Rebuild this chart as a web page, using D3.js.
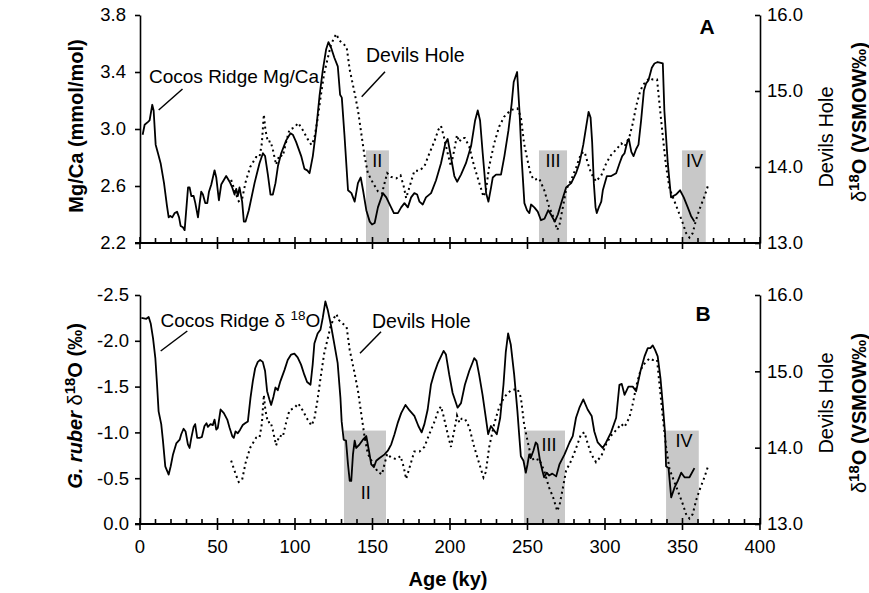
<!DOCTYPE html>
<html>
<head>
<meta charset="utf-8">
<script src="https://cdn.jsdelivr.net/npm/d3@7"></script>
<style>
  body { margin: 0; background: #fff; }
  svg { display: block; font-family: "Liberation Sans", Arial, Helvetica, sans-serif; }
</style>
</head>
<body>
<svg id="chart" width="869" height="593"></svg>
<script>
// Cocos Ridge Mg/Ca (mmol/mol) vs age (ky)
const cocosMgCa = [
  [1.7,2.96],[3.0,3.03],[5.2,3.05],[6.2,3.06],[7.9,3.17],[8.8,3.13],[10.1,2.89],[11.6,2.83],
  [13.3,2.76],[15.5,2.62],[17.4,2.46],[18.5,2.38],[19.6,2.39],[20.8,2.38],[22.4,2.41],[23.9,2.42],
  [25.2,2.38],[26.2,2.32],[27.7,2.31],[28.8,2.29],[31.0,2.59],[32.0,2.59],[33.1,2.53],[34.6,2.53],
  [35.7,2.48],[37.4,2.38],[38.5,2.48],[39.5,2.56],[40.6,2.54],[42.1,2.48],[43.4,2.48],[44.5,2.56],
  [46.0,2.61],[48.1,2.71],[49.2,2.66],[50.9,2.50],[52.4,2.61],[55.6,2.67],[57.8,2.63],[59.5,2.59],
  [61.0,2.54],[62.1,2.58],[63.1,2.53],[64.2,2.59],[65.9,2.49],[67.0,2.35],[68.1,2.35],[70.2,2.43],
  [73.9,2.62],[77.1,2.76],[79.3,2.83],[80.7,2.81],[82.5,2.68],[84.2,2.54],[85.7,2.54],[87.4,2.62],
  [89.0,2.74],[91.1,2.83],[94.3,2.92],[97.1,2.97],[98.6,2.96],[100.7,2.91],[104.0,2.81],[106.1,2.72],
  [107.9,2.71],[109.4,2.69],[111.5,2.81],[113.6,2.99],[115.8,3.23],[117.9,3.41],[120.1,3.56],[121.6,3.61],
  [123.3,3.57],[125.4,3.50],[127.6,3.44],[129.1,3.24],[130.2,3.22],[131.9,2.96],[134.2,2.57],[136.4,2.55],
  [138.5,2.49],[140.6,2.62],[142.4,2.66],[143.9,2.57],[146.0,2.43],[148.2,2.35],[149.7,2.33],[151.4,2.34],
  [153.5,2.45],[156.7,2.55],[158.9,2.52],[162.0,2.45],[163.8,2.41],[166.4,2.41],[168.5,2.45],[170.6,2.48],
  [172.8,2.45],[174.9,2.52],[177.0,2.55],[178.8,2.54],[180.3,2.49],[182.4,2.47],[184.5,2.52],[187.8,2.55],
  [191.0,2.64],[194.2,2.76],[197.0,2.90],[198.5,2.93],[200.2,2.83],[202.8,2.67],[204.6,2.63],[207.1,2.68],
  [210.3,2.76],[213.6,2.88],[216.2,3.06],[217.9,3.13],[219.4,3.06],[221.1,2.83],[223.3,2.55],[224.8,2.49],
  [226.5,2.59],[227.6,2.66],[229.7,2.68],[232.9,2.68],[235.1,2.81],[237.7,2.99],[239.8,3.18],[241.1,3.33],
  [243.3,3.40],[244.8,3.13],[246.3,2.78],[248.0,2.48],[249.7,2.43],[251.2,2.41],[252.3,2.47],[254.4,2.45],
  [256.6,2.42],[258.7,2.36],[260.9,2.37],[263.4,2.43],[265.1,2.40],[267.6,2.35],[269.6,2.40],[271.8,2.48],
  [274.9,2.59],[278.2,2.62],[281.3,2.69],[283.5,2.76],[286.0,2.89],[287.9,3.02],[289.4,3.12],[290.7,3.08],
  [291.7,2.91],[292.8,2.62],[293.9,2.45],[294.7,2.41],[296.0,2.45],[297.6,2.49],[298.6,2.57],[301.2,2.67],
  [304.0,2.67],[307.2,2.69],[309.4,2.76],[311.1,2.81],[312.6,2.83],[314.4,2.91],[315.4,2.93],[317.0,2.84],
  [318.4,2.81],[320.1,2.86],[321.6,2.89],[323.3,3.06],[325.1,3.27],[326.5,3.32],[328.0,3.34],[330.2,3.43],
  [331.9,3.46],[334.0,3.47],[337.3,3.46],[338.3,3.13],[340.5,2.76],[342.6,2.52],[345.8,2.54],[348.4,2.57],
  [350.8,2.52],[353.4,2.45],[355.5,2.39],[357.7,2.35]
];

// Cocos Ridge G. ruber d18O (permil) vs age (ky)
const cocosD18O = [
  [0.9,-2.25],[4.1,-2.24],[5.6,-2.26],[6.9,-2.19],[8.4,-2.03],[9.9,-1.81],[11.0,-1.52],[12.0,-1.23],
  [13.7,-1.09],[14.8,-0.91],[16.3,-0.63],[18.5,-0.54],[19.8,-0.63],[21.3,-0.76],[23.4,-0.88],[25.6,-0.92],
  [26.6,-0.98],[28.1,-1.04],[29.4,-1.01],[30.9,-0.87],[32.0,-0.83],[33.1,-0.94],[34.6,-1.06],[35.6,-1.09],
  [36.9,-0.94],[38.4,-0.94],[39.9,-0.95],[41.6,-1.07],[42.9,-1.10],[43.8,-1.06],[45.5,-1.09],[47.0,-1.08],
  [48.1,-1.14],[49.2,-1.03],[50.2,-1.05],[52.0,-1.25],[54.1,-1.21],[56.3,-1.14],[57.8,-1.05],[59.5,-0.96],
  [60.5,-0.94],[61.6,-1.01],[63.1,-0.99],[64.6,-1.03],[66.3,-1.08],[67.8,-1.10],[69.6,-1.12],[71.3,-1.38],
  [72.8,-1.56],[74.3,-1.70],[76.0,-1.77],[77.5,-1.79],[79.2,-1.77],[80.7,-1.67],[82.0,-1.45],[83.5,-1.36],
  [84.6,-1.30],[86.1,-1.39],[87.4,-1.49],[88.9,-1.46],[90.6,-1.56],[93.2,-1.68],[95.3,-1.79],[97.5,-1.85],
  [99.6,-1.86],[101.7,-1.82],[103.9,-1.74],[106.0,-1.63],[107.8,-1.55],[110.0,-1.52],[111.4,-1.74],[112.5,-1.97],
  [114.6,-2.08],[116.4,-2.12],[117.9,-2.25],[119.6,-2.43],[121.1,-2.34],[123.2,-2.17],[125.4,-1.96],[127.5,-1.76],
  [129.3,-1.38],[130.1,-1.12],[131.4,-0.92],[132.9,-0.91],[134.2,-0.65],[135.3,-0.47],[136.3,-0.47],[137.4,-0.76],
  [138.5,-0.91],[139.5,-0.83],[141.7,-0.87],[143.8,-0.92],[146.0,-0.96],[147.7,-0.80],[149.2,-0.65],[150.9,-0.62],
  [152.4,-0.69],[154.6,-0.72],[157.8,-0.76],[159.9,-0.80],[162.1,-0.87],[164.2,-0.98],[166.4,-1.11],[168.5,-1.21],
  [171.3,-1.30],[173.9,-1.24],[177.0,-1.18],[179.6,-1.07],[181.7,-1.00],[183.5,-1.09],[185.6,-1.25],[187.7,-1.52],
  [189.9,-1.65],[192.0,-1.75],[194.2,-1.83],[195.9,-1.89],[197.4,-1.85],[199.5,-1.63],[201.7,-1.43],[204.9,-1.27],
  [207.1,-1.32],[209.6,-1.52],[212.4,-1.67],[214.5,-1.76],[215.6,-1.81],[217.1,-1.78],[218.8,-1.63],[221.0,-1.41],
  [223.1,-1.16],[224.6,-0.98],[226.4,-1.07],[228.1,-1.03],[230.2,-0.98],[232.4,-1.16],[234.5,-1.52],[236.0,-1.88],
  [237.5,-2.08],[239.2,-1.96],[241.4,-1.63],[243.5,-1.23],[244.6,-0.98],[245.7,-0.74],[247.4,-0.69],[248.9,-0.56],
  [250.0,-0.65],[251.1,-0.76],[252.1,-0.72],[253.8,-0.80],[255.3,-0.89],[256.4,-0.87],[258.1,-0.69],[259.6,-0.58],
  [260.7,-0.51],[262.4,-0.56],[263.9,-0.53],[266.0,-0.55],[268.5,-0.52],[270.6,-0.65],[273.9,-0.76],[277.1,-0.89],
  [279.2,-0.96],[281.3,-1.16],[283.5,-1.27],[286.0,-1.36],[288.8,-1.25],[291.4,-1.18],[293.1,-1.01],[295.3,-0.89],
  [298.5,-0.83],[300.7,-0.89],[303.9,-1.00],[307.2,-1.16],[309.3,-1.52],[310.8,-1.53],[312.6,-1.41],[315.1,-1.50],
  [317.9,-1.50],[320.1,-1.45],[322.9,-1.67],[325.5,-1.83],[327.6,-1.92],[329.3,-1.92],[330.8,-1.95],[332.3,-1.90],
  [334.0,-1.83],[335.8,-1.59],[337.3,-1.30],[338.8,-0.98],[339.4,-0.63],[341.0,-0.61],[342.7,-0.29],[344.9,-0.40],
  [347.0,-0.47],[349.2,-0.56],[351.3,-0.51],[354.5,-0.51],[357.7,-0.61]
];

// Devils Hole d18O (VSMOW permil) vs age (ky), same record in both panels
const devilsHole = [
  [58.8,13.83],[61.6,13.66],[63.7,13.55],[65.9,13.58],[68.1,13.80],[71.1,14.00],[74.9,14.13],[77.1,14.13],
  [78.6,14.31],[79.9,14.69],[80.9,14.49],[82.5,14.33],[84.2,14.34],[85.7,14.23],[87.8,14.03],[90.0,14.16],
  [92.1,14.14],[94.3,14.33],[96.4,14.49],[99.6,14.52],[102.1,14.58],[104.9,14.49],[108.1,14.37],[110.6,14.29],
  [112.4,14.37],[114.5,14.62],[116.6,14.93],[118.8,15.23],[121.0,15.42],[123.1,15.60],[125.2,15.70],[126.7,15.75],
  [128.4,15.67],[130.6,15.63],[133.3,15.58],[135.3,15.28],[138.5,14.97],[140.6,14.75],[142.7,14.45],[144.9,14.14],
  [147.0,13.92],[150.3,13.79],[153.5,13.68],[156.1,13.65],[157.8,13.79],[159.5,13.92],[162.0,13.87],[165.3,13.85],
  [168.1,13.89],[170.2,13.74],[171.7,13.59],[173.9,13.74],[177.0,13.95],[180.3,13.95],[183.5,14.01],[186.7,14.18],
  [190.0,14.34],[192.5,14.49],[194.2,14.54],[195.9,14.41],[198.5,14.18],[200.6,14.01],[202.8,14.23],[204.5,14.42],
  [206.0,14.33],[207.5,14.38],[209.6,14.38],[212.4,14.27],[215.6,14.01],[218.9,13.79],[221.6,13.61],[223.1,13.68],
  [225.3,14.01],[228.5,14.31],[231.7,14.53],[234.9,14.66],[239.2,14.75],[243.5,14.77],[245.7,14.66],[247.8,14.31],
  [250.0,14.09],[252.1,13.90],[254.2,13.83],[257.5,13.85],[260.7,13.70],[263.9,13.48],[266.5,13.35],[268.0,13.25],
  [269.2,13.17],[270.7,13.25],[272.9,13.48],[274.9,13.70],[278.2,13.83],[281.3,13.99],[284.6,14.18],[286.8,14.20],
  [288.9,14.05],[291.0,13.92],[294.2,13.81],[297.6,13.89],[300.8,14.05],[304.0,14.16],[307.2,14.23],[310.5,14.31],
  [312.6,14.27],[315.8,14.40],[318.0,14.58],[320.1,14.80],[322.3,14.97],[324.4,15.08],[326.5,15.12],[328.7,15.17],
  [330.8,15.15],[333.6,15.15],[335.1,14.84],[337.3,14.40],[339.4,14.01],[341.6,13.72],[344.4,13.57],[346.9,13.44],
  [350.2,13.26],[352.3,13.13],[354.5,13.07],[356.6,13.13],[358.8,13.31],[360.9,13.44],[364.1,13.61],[366.7,13.77]
];

// shaded intervals: [start age, end age, top value on left axis]
const shadeA = [[145.8,160.6,2.85],[257.4,275.5,2.85],[349.7,365.0,2.85]];
const shadeB = [[131.6,158.7,-1.02],[247.7,274.2,-1.02],[339.4,360.5,-1.02]];
// numerals: [text, age, left-axis value of baseline]
const romanA = [["II",153.0,2.735],["III",266.4,2.735],["IV",357.8,2.735]];
const romanB = [["II",145.6,-0.27],["III",263.8,-0.80],["IV",351.0,-0.84]];

const ageTicks = d3.range(0, 401, 50);
const ageMinor = d3.range(0, 401, 10);
const mgcaTicks = [2.2, 2.6, 3.0, 3.4, 3.8];
const d18OTicks = [0.0, -0.5, -1.0, -1.5, -2.0, -2.5];
const dhTicks = [13, 14, 15, 16];

const svg = d3.select("#chart");
const TICKFONT = 18.5;
const x = d3.scaleLinear().domain([0, 400]).range([140, 760]);

function drawPanel(cfg) {
  const g = svg.append("g");
  const yL = d3.scaleLinear().domain(cfg.leftDomain).range([cfg.bottom, cfg.top]);
  const yR = d3.scaleLinear().domain([13, 16]).range([cfg.bottom, cfg.top]);

  // grey boxes
  g.append("g").selectAll("rect").data(cfg.shade).join("rect")
    .attr("x", d => x(d[0])).attr("width", d => x(d[1]) - x(d[0]))
    .attr("y", d => yL(d[2])).attr("height", d => cfg.bottom - yL(d[2]))
    .attr("fill", "#c8c8c8");

  g.append("g").selectAll("text").data(cfg.roman).join("text")
    .attr("x", d => x(d[1])).attr("y", d => yL(d[2]))
    .attr("text-anchor", "middle").attr("font-size", 18).attr("fill", "#000")
    .text(d => d[0]);

  // Devils Hole dotted
  g.append("path").datum(devilsHole)
    .attr("fill", "none").attr("stroke", "#000").attr("stroke-width", 2)
    .attr("stroke-dasharray", "2,3.4")
    .attr("d", d3.line().x(d => x(d[0])).y(d => yR(d[1])));

  // Cocos Ridge solid
  g.append("path").datum(cfg.series)
    .attr("fill", "none").attr("stroke", "#000").attr("stroke-width", 1.8)
    .attr("stroke-linejoin", "round")
    .attr("d", d3.line().x(d => x(d[0])).y(d => yL(d[1])));

  // left axis
  const la = g.append("g").attr("transform", "translate(140,0)")
    .call(d3.axisLeft(yL).tickValues(cfg.leftTicks).tickSize(5).tickSizeOuter(0).tickPadding(cfg.leftPad)
      .tickFormat(d3.format(".1f")));
  // right axis, ticks inward
  const ra = g.append("g").attr("transform", "translate(760,0)")
    .call(d3.axisRight(yR).tickValues(dhTicks).tickSize(-5).tickSizeOuter(0).tickPadding(7)
      .tickFormat(d3.format(".1f")));
  [la, ra].forEach(a => {
    a.selectAll("path, line").attr("stroke", "#000").attr("stroke-width", 1.6);
    a.selectAll("text").attr("font-size", TICKFONT).attr("fill", "#000")
      .attr("font-family", "Liberation Sans, Arial, sans-serif");
  });
  la.selectAll("text").text(d => d3.format(".1f")(d).replace("−", "-"));

  // bottom axis
  const b = g.append("g");
  b.append("line").attr("x1", 135).attr("x2", 760).attr("y1", cfg.bottom).attr("y2", cfg.bottom)
    .attr("stroke", "#000").attr("stroke-width", 1.8);
  b.selectAll(".minor").data(ageMinor.filter(v => v % 50 !== 0)).join("line")
    .attr("x1", d => x(d)).attr("x2", d => x(d))
    .attr("y1", cfg.bottom - 5).attr("y2", cfg.bottom)
    .attr("stroke", "#000").attr("stroke-width", 1.6);
  b.selectAll(".major").data(ageTicks).join("line")
    .attr("x1", d => x(d)).attr("x2", d => x(d))
    .attr("y1", cfg.bottom - 6).attr("y2", cfg.bottom + 6)
    .attr("stroke", "#000").attr("stroke-width", 1.6);
  if (cfg.ageLabels) {
    b.selectAll("text").data(ageTicks).join("text")
      .attr("x", d => x(d)).attr("y", cfg.bottom + 29)
      .attr("text-anchor", "middle").attr("font-size", TICKFONT).text(d => d);
  }

  // panel letter
  g.append("text").attr("x", cfg.letterX).attr("y", cfg.letterY)
    .attr("text-anchor", "middle").attr("font-size", 21).attr("font-weight", "bold")
    .text(cfg.letter);

  return { g, yL, yR };
}

drawPanel({
  top: 15, bottom: 243, leftDomain: [2.2, 3.8], leftTicks: mgcaTicks, leftPad: 9,
  series: cocosMgCa, shade: shadeA, roman: romanA, ageLabels: false,
  letter: "A", letterX: 707, letterY: 34
});
drawPanel({
  top: 295, bottom: 524, leftDomain: [0, -2.5], leftTicks: d18OTicks, leftPad: 6,
  series: cocosD18O, shade: shadeB, roman: romanB, ageLabels: true,
  letter: "B", letterX: 703, letterY: 321
});

// annotations with leader lines
function annot(txt, tx, ty, size, line, sup) {
  const t = svg.append("text").attr("x", tx).attr("y", ty).attr("font-size", size);
  t.append("tspan").text(txt);
  if (sup) {
    t.append("tspan").attr("font-size", 13.5).attr("dy", -7).text(sup[0]);
    t.append("tspan").attr("dy", 7).text(sup[1]);
  }
  svg.append("line").attr("x1", line[0]).attr("y1", line[1]).attr("x2", line[2]).attr("y2", line[3])
    .attr("stroke", "#000").attr("stroke-width", 1.5);
}
annot("Cocos Ridge Mg/Ca", 149, 83, 19, [158.7, 110, 182.5, 89]);
annot("Devils Hole", 366, 62, 19.5, [361.7, 96.7, 385, 71.7]);
annot("Cocos Ridge \u03b4 ", 160.5, 327, 19, [160.7, 351, 187.3, 331], ["18", "O"]);
annot("Devils Hole", 372, 328, 19.5, [360, 353.3, 381, 331.7]);

// axis titles
function vtitle(cx, cy, size, parts) {
  const t = svg.append("text").attr("transform", `translate(${cx},${cy}) rotate(-90)`)
    .attr("text-anchor", "middle").attr("font-size", size);
  parts.forEach(p => {
    const s = t.append("tspan").text(p.t);
    if (p.w) s.attr("font-weight", p.w);
    if (p.i) s.attr("font-style", "italic");
    if (p.s) s.attr("font-size", p.s);
    if (p.dy) s.attr("dy", p.dy);
  });
}
vtitle(83, 126, 20, [{ t: "Mg/Ca (mmol/mol)", w: "bold" }]);
vtitle(82, 406, 20, [
  { t: "G. ruber", w: "bold", i: true }, { t: " \u03b4" },
  { t: "18", w: "bold", s: 15, dy: -7 }, { t: "O (\u2030)", w: "bold", dy: 7 }
]);
[[137, 122], [403, 413]].forEach(([c1, c2]) => {
  vtitle(833, c1, 20, [{ t: "Devils Hole" }]);
  vtitle(866, c2, 20, [
    { t: "\u03b4" }, { t: "18", w: "bold", s: 15, dy: -7 },
    { t: "O (VSMOW\u2030)", w: "bold", dy: 7 }
  ]);
});

svg.append("text").attr("x", 448).attr("y", 586).attr("text-anchor", "middle")
  .attr("font-size", 20).attr("font-weight", "bold").text("Age (ky)");
</script>
</body>
</html>
